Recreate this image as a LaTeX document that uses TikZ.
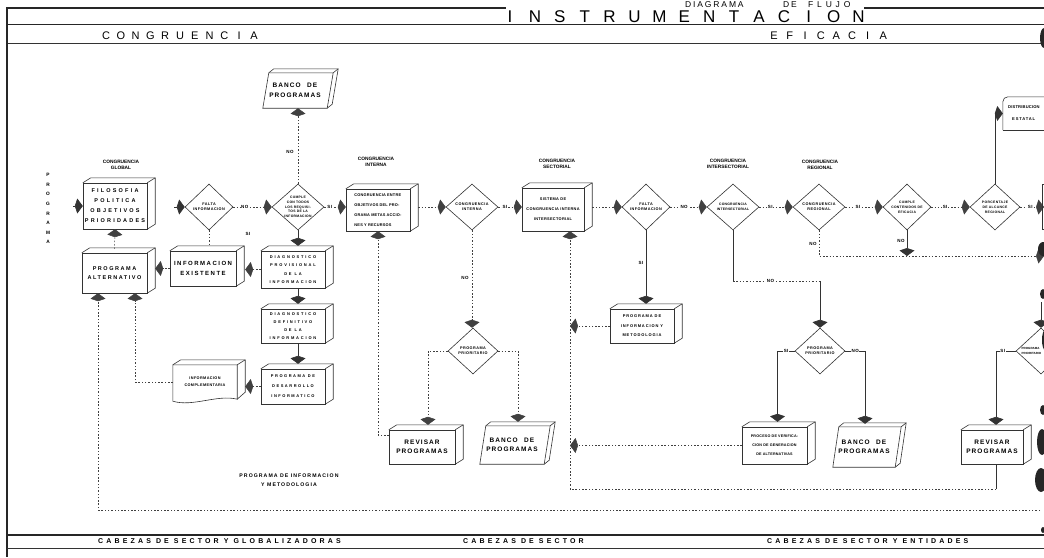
\documentclass[tikz,border=0pt]{standalone}
\usepackage{fontspec}
\setmainfont{Liberation Sans}
\usetikzlibrary{arrows.meta,calc,shapes.geometric}

% front face plus top and right faces of a box
\newcommand\cubeface[1]{%
  \draw[boxl] (#1.south west) rectangle (#1.north east);
  \draw[boxl] (#1.north west) -- ++(8,-5) -- ($(#1.north east)+(8,-5)$) -- ($(#1.south east)+(8,-5)$) -- (#1.south east);
  \draw[boxl] (#1.north east) -- ++(8,-5);}
% slanted box used for the program bank
\newcommand\bancoface[1]{%
  \draw[boxl] (#1.south west) -- ($(#1.north west)+(6,0)$) -- ($(#1.north east)+(6,0)$) -- (#1.south east) -- cycle;
  \draw[boxl] ($(#1.north west)+(6,0)$) -- ++(5,-4) -- ($(#1.north east)+(11,-4)$) -- ($(#1.south east)+(5,-4)$) -- (#1.south east);
  \draw[boxl] ($(#1.north east)+(6,0)$) -- ++(5,-4);}

\tikzset{
  boxl/.style={draw=black!80, line width=0.6pt},
  tx/.style n args={3}{font=\bfseries\fontsize{#1}{#2}\selectfont\addfontfeature{LetterSpace=#3}},
  face/.style={rectangle, inner sep=0pt, align=center},
  dia/.style={diamond, boxl, inner sep=0pt, minimum width=50pt, minimum height=46pt},
  dtext/.style={inner sep=0pt, align=center, tx={3.8}{5.2}{12}},
  lab/.style={inner sep=0.5pt, fill=white, tx={4.5}{5}{10}},
  cname/.style={inner sep=0pt, align=center, tx={4.8}{6}{0}},
  dln/.style={draw=black!75, line width=0.5pt, dash pattern=on 1.5pt off 1.8pt},
  sln/.style={draw=black!80, line width=0.6pt},
  arr/.style={-{Kite[length=8pt,width=15pt,inset=2.5pt]}},
  hd/.style={inner sep=0pt, font=\fontsize{#1}{#1}\selectfont},
}

\begin{document}
\begin{tikzpicture}[x=1pt,y=-1pt]
\useasboundingbox (0,0) rectangle (1044,557);

% ---------- frame and title bands ----------
\draw[line width=1.3pt, black!85] (6,8) -- (506,8);
\draw[line width=1.3pt, black!85] (864,8) -- (1044,8);
\draw[line width=1pt, black!85] (6,24.5) -- (1044,24.5);
\draw[line width=0.8pt, black!80] (6,43) -- (1044,43);
\draw[line width=1.5pt, black!85] (7,7.5) -- (7,557);
\draw[line width=1.2pt, black!85] (7,535) -- (1044,535);
\draw[line width=0.8pt, black!80] (7,548) -- (1044,548);

\node[anchor=base west, inner sep=0pt, font=\fontsize{8.5}{8.5}\selectfont\addfontfeature{LetterSpace=22}] (dg1) at (685,7) {DIAGRAMA};
\node[anchor=base west, inner sep=0pt, font=\fontsize{8.5}{8.5}\selectfont\addfontfeature{LetterSpace=22}] (dg2) at (783,7) {DE};
\node[anchor=base west, inner sep=0pt, font=\fontsize{8.5}{8.5}\selectfont\addfontfeature{LetterSpace=45}] (dg3) at (808,7) {FLUJO};

\foreach \c [count=\i from 0] in {I,N,S,T,R,U,M,E,N,T,A,C,I,O,N}
  \node[hd=17] (ti\i) at (510+24.9*\i,17) {\c};
\foreach \c [count=\i from 0] in {C,O,N,G,R,U,E,N,C,I,A}
  \node[hd=11] (hc\i) at (106+14.8*\i,36) {\c};
\foreach \c [count=\i from 0] in {E,F,I,C,A,C,I,A}
  \node[hd=11] (he\i) at (774+15.6*\i,36) {\c};

\foreach \c [count=\i from 0] in {P,R,O,G,R,A,M,A}
  \node[inner sep=0pt, tx={4.8}{5}{0}] (pv\i) at (48,175+9.6*\i) {\c};

\node[anchor=west, inner sep=0pt, tx={7}{7}{45}] (bot1) at (98,541.5) {CABEZAS DE SECTOR Y GLOBALIZADORAS};
\node[anchor=west, inner sep=0pt, tx={7}{7}{45}] (bot2) at (463,541.5) {CABEZAS DE SECTOR};
\node[anchor=west, inner sep=0pt, tx={7}{7}{45}] (bot3) at (767,541.5) {CABEZAS DE SECTOR Y ENTIDADES};

% ---------- stage captions ----------
\node[cname] (lglob) at (121,165) {CONGRUENCIA\\GLOBAL};
\node[cname] (lint) at (376,162) {CONGRUENCIA\\INTERNA};
\node[cname] (lsec) at (557,164) {CONGRUENCIA\\SECTORIAL};
\node[cname] (linter) at (728,164) {CONGRUENCIA\\INTERSECTORIAL};
\node[cname] (lreg) at (820,165) {CONGRUENCIA\\REGIONAL};
\node[inner sep=0pt, align=center, tx={5.2}{9}{20}] (lpim) at (289,480) {PROGRAMA DE INFORMACION\\Y METODOLOGIA};

% ---------- process boxes ----------
\node[face, minimum width=64pt, minimum height=46pt, tx={5.5}{10}{40}] (filo) at (115,206) {FILOSOFIA\\POLITICA\\OBJETIVOS\\PRIORIDADES};
\cubeface{filo}
\node[face, minimum width=65pt, minimum height=40pt, tx={5.5}{9.5}{28}] (alt) at (114.5,273) {PROGRAMA\\ALTERNATIVO};
\cubeface{alt}
\node[face, minimum width=66pt, minimum height=35pt, tx={6}{10}{25}] (exist) at (203,268.5) {INFORMACION\\EXISTENTE};
\cubeface{exist}
\node[face, minimum width=64pt, minimum height=37pt, tx={4}{8.5}{45}] (diagp) at (293,269.5) {DIAGNOSTICO\\PROVISIONAL\\DE LA\\INFORMACION};
\cubeface{diagp}
\node[face, minimum width=64pt, minimum height=34pt, tx={4}{8}{45}] (diagd) at (293,326) {DIAGNOSTICO\\DEFINITIVO\\DE LA\\INFORMACION};
\cubeface{diagd}
\node[face, minimum width=64pt, minimum height=35pt, tx={4}{10}{38}] (desa) at (293,386.5) {PROGRAMA DE\\DESARROLLO\\INFORMATICO};
\cubeface{desa}
\node[face, minimum width=64pt, minimum height=34pt, tx={3.8}{7}{10}] (icomp) at (205,382) {INFORMACION\\COMPLEMENTARIA};
\draw[boxl] (icomp.south west) -- (icomp.north west) -- (icomp.north east) -- (icomp.south east)
  .. controls ($(icomp.south east)+(-20,-5)$) and ($(icomp.south west)+(20,8)$) .. ($(icomp.south west)+(0,2)$) -- cycle;
\draw[boxl] (icomp.north west) -- ++(8,-5) -- ($(icomp.north east)+(8,-5)$) -- ($(icomp.south east)+(8,-7)$) -- (icomp.south east);
\draw[boxl] (icomp.north east) -- ++(8,-5);
\node[face, minimum width=64pt, minimum height=42pt, align=left, tx={3.9}{10}{5}] (cint) at (378,210) {CONGRUENCIA ENTRE\\OBJETIVOS DEL PRO-\\GRAMA METAS ACCIO-\\NES Y RECURSOS};
\cubeface{cint}
\node[face, minimum width=62pt, minimum height=43pt, tx={3.9}{10}{8}] (csec) at (553,209.5) {SISTEMA DE\\CONGRUENCIA INTERNA\\INTERSECTORIAL};
\cubeface{csec}
\node[face, minimum width=64pt, minimum height=34pt, tx={4}{9.5}{22}] (pim) at (642,326) {PROGRAMA DE\\INFORMACION Y\\METODOLOGIA};
\cubeface{pim}
\node[face, minimum width=66pt, minimum height=34pt, tx={6.5}{9.5}{16}] (rev1) at (422,447) {REVISAR\\PROGRAMAS};
\cubeface{rev1}
\node[face, minimum width=65pt, minimum height=37pt, tx={3.7}{9}{5}] (proc) at (774.5,445.5) {PROCESO DE VERIFICA-\\CION DE GENERACION\\DE ALTERNATIVAS};
\cubeface{proc}
\node[face, minimum width=62pt, minimum height=34pt, tx={6.5}{9.5}{16}] (rev2) at (992,447) {REVISAR\\PROGRAMAS};
\cubeface{rev2}
\node[face, minimum width=64pt, minimum height=35pt, tx={6.5}{9.5}{16}] (banco0) at (295,90.5) {BANCO\quad DE\\PROGRAMAS};
\bancoface{banco0}
\node[face, minimum width=64pt, minimum height=38pt, tx={6.5}{9.5}{16}] (banco1) at (512,445) {BANCO\quad DE\\PROGRAMAS};
\bancoface{banco1}
\node[face, minimum width=62pt, minimum height=40pt, tx={6.5}{9.5}{16}] (banco2) at (864,447) {BANCO\quad DE\\PROGRAMAS};
\bancoface{banco2}
\node[face, minimum width=57pt, minimum height=33pt] (dist) at (1031.5,113.5) {};
\draw[boxl, rounded corners=5pt] (dist.south west) -- (dist.north west) -- (dist.north east);
\draw[boxl] (dist.south west) -- (dist.south east);
\node[anchor=west, inner sep=0pt, tx={4.1}{5}{4}] (distt1) at (1008,107) {DISTRIBUCION};
\node[anchor=west, inner sep=0pt, tx={4.1}{5}{20}] (distt2) at (1012,119) {ESTATAL};

% ---------- decisions ----------
\node[dia, minimum width=48pt] (falta1) at (209,207) {};
\node[dtext] (falta1t) at (falta1) {FALTA\\INFORMACION};
\node[dia, minimum width=52pt] (cumple) at (298,207) {};
\node[dtext, tx={3.4}{4.8}{8}] (cumplet) at (cumple) {CUMPLE\\CON TODOS\\LOS REQUISI-\\TOS DE LA\\INFORMACION};
\node[dia, minimum width=52pt] (cchk) at (472,207) {};
\node[dtext] (cchkt) at (cchk) {CONGRUENCIA\\INTERNA};
\node[dia] (prio1) at (473,351) {};
\node[dtext] (prio1t) at (prio1) {PROGRAMA\\PRIORITARIO};
\node[dia, minimum width=48pt] (falta2) at (646,207) {};
\node[dtext] (falta2t) at (falta2) {FALTA\\INFORMACION};
\node[dia, minimum width=52pt] (inter) at (733,207) {};
\node[dtext, tx={3.4}{5.2}{6}] (intert) at (inter) {CONGRUENCIA\\INTERSECTORIAL};
\node[dia, minimum width=52pt] (reg) at (819,207) {};
\node[dtext] (regt) at (reg) {CONGRUENCIA\\REGIONAL};
\node[dia, minimum width=48pt] (eff) at (907,207) {};
\node[dtext, tx={3.4}{5}{8}] (efft) at (eff) {CUMPLE\\CONTENIDOS DE\\EFICACIA};
\node[dia] (porc) at (995,207) {};
\node[dtext, tx={3.4}{5}{10}] (porct) at (porc) {PORCENTAJE\\DE ALCANCE\\REGIONAL};
\node[dia] (prio2) at (820,351) {};
\node[dtext] (prio2t) at (prio2) {PROGRAMA\\PRIORITARIO};
\node[dia] (prio3) at (1041,351) {};
\node[anchor=west, inner sep=0pt, align=left, tx={3}{5}{0}] (prio3t) at (1021.5,351) {PROGRAMA\\PRIORITARIO};

% ---------- connectors ----------
\coordinate (pin) at (73,206);
\draw[sln,arr] (pin) -- (filo.west);
\draw[dln,arr] ($(alt.north)+(0,-4)$) -- (filo.south);
\coordinate (fin) at (174,207);
\draw[sln,arr] (fin) -- (falta1.west);
\draw[dln,arr] (falta1.east) -- node[lab,pos=0.3] (no1) {NO} (cumple.west);
\draw[dln] (falta1.south) -- ($(falta1.south |- exist.north)+(0,-5)$);
\node[lab, fill=none] (si1) at (248,234) {SI};
\draw[dln,arr] (diagp.west) -- ($(exist.east |- diagp.west)+(9,0)$);
\draw[dln,arr] (exist.west) -- ($(alt.east |- exist.west)+(8,0)$);
\draw[sln,arr] (cumple.south) -- ($(cumple.south |- diagp.north)+(0,-5)$);
\draw[sln,arr] ($(diagp.south)+(5,0)$) -- ($(diagd.north)+(5,-5)$);
\draw[sln,arr] ($(diagd.south)+(5,0)$) -- ($(desa.north)+(5,-5)$);
\draw[dln,arr] (desa.west) -- ($(icomp.east |- desa.west)+(8,0)$);
\draw[dln,arr] (icomp.west) -| ($(alt.south)+(20.5,0)$);
\coordinate (rt) at (1040,510);
\draw[dln,arr] (rt) -| ($(alt.south)+(-16.5,0)$);

\draw[dln,arr] (cumple.north) -- (cumple.north |- banco0.south);
\node[lab, fill=none] (no2) at (290,152) {NO};
\draw[dln,arr] (cumple.east) -- node[lab,pos=0.25] (si2) {SI} (cint.west |- cumple.east);
\draw[dln,arr] ($(rev1.west)+(0,-12)$) -| (cint.south);
\draw[dln,arr] ($(cint.east)+(8,-3)$) -- (cchk.west);
\draw[dln,arr] (cchk.east) -- node[lab,pos=0.28] (si3) {SI} (csec.west |- cchk.east);
\draw[dln,arr] (cchk.south) -- (cchk.south |- prio1.north);
\node[lab, fill=none] (no3) at (465,278) {NO};
\draw[dln,arr] (prio1.west) -| ($(rev1.north)+(6,-5)$);
\draw[dln,arr] (prio1.east) -| ($(banco1.north)+(6,-4)$);

\coordinate (busb) at (570,489);
\coordinate (busr) at (996,489);
\draw[dln,arr] (busb) -- ($(csec.south)+(17,0)$);
\draw[dln] (busr) -- (busb);
\draw[sln] ($(rev2.south)+(4,0)$) -- (busr);
\draw[dln,arr] (pim.west) -- (pim.west -| busb);
\draw[dln,arr] (proc.west) -- (proc.west -| busb);

\draw[dln,arr] ($(csec.east)+(8,-2.5)$) -- (falta2.west);
\draw[dln,arr] (falta2.east) -- node[lab,pos=0.38] (no4) {NO} (inter.west);
\draw[sln,arr] (falta2.south) -- ($(pim.north)+(4,-5)$);
\node[lab, fill=none] (si4) at (641,263) {SI};
\draw[dln,arr] (inter.east) -- node[lab,pos=0.33] (si5) {SI} (reg.west);
\coordinate (k1) at (733,281);
\draw[sln] (inter.south) -- (k1);
\draw[dln] (k1) -- node[lab,pos=0.43] (no5) {NO} (k1 -| prio2.north);
\draw[sln,arr] (k1 -| prio2.north) -- (prio2.north);
\draw[sln,arr] (prio2.west) -| node[lab,pos=0.25] (si9) {SI} ($(proc.north)+(3,-5)$);
\draw[sln,arr] (prio2.east) -| node[lab,pos=0.25] (no8) {NO} ($(banco2.north)+(1,-3)$);
\draw[sln,arr] (prio3.west) -| node[lab,pos=0.33] (si10) {SI} ($(rev2.north)+(4,-5)$);
\coordinate (p3in) at (1041,302);
\draw[sln,arr] (p3in) -- (prio3.north);

\draw[dln,arr] (reg.east) -- node[lab,pos=0.34] (si6) {SI} (eff.west);
\draw[dln,arr] (eff.east) -- node[lab,pos=0.36] (si7) {SI} (porc.west);
\coordinate (outr) at (1044,207);
\draw[dln,arr] (porc.east) -- node[lab,pos=0.42] (si8) {SI} (outr);
\coordinate (outn) at (1044,256);
\draw[dln,arr] (reg.south) |- (outn);
\node[lab, fill=none] (no6) at (813,244) {NO};
\draw[sln,arr] (eff.south) -- (eff.south |- outn);
\node[lab, fill=none] (no7) at (901,241) {NO};
\draw[sln,arr] (porc.north) |- (dist.west);

% ---------- continuation marks at the right edge ----------
\draw[boxl] (1042,184) rectangle (1070,229);
\fill[black!85] (1044,38) ellipse [x radius=4pt, y radius=10pt];
\fill[black!85] (1043,249) ellipse [x radius=5pt, y radius=7pt];
\fill[black!85] (1043,294) ellipse [x radius=3pt, y radius=5pt];
\fill[black!85] (1045,340) ellipse [x radius=3pt, y radius=10pt];
\fill[black!85] (1043,410) ellipse [x radius=3pt, y radius=5pt];
\fill[black!85] (1042,442) ellipse [x radius=5pt, y radius=13pt];
\fill[black!85] (1041,480) ellipse [x radius=6pt, y radius=12pt];
\fill[black!85] (1043,530) ellipse [x radius=2pt, y radius=3pt];
\end{tikzpicture}
\end{document}
